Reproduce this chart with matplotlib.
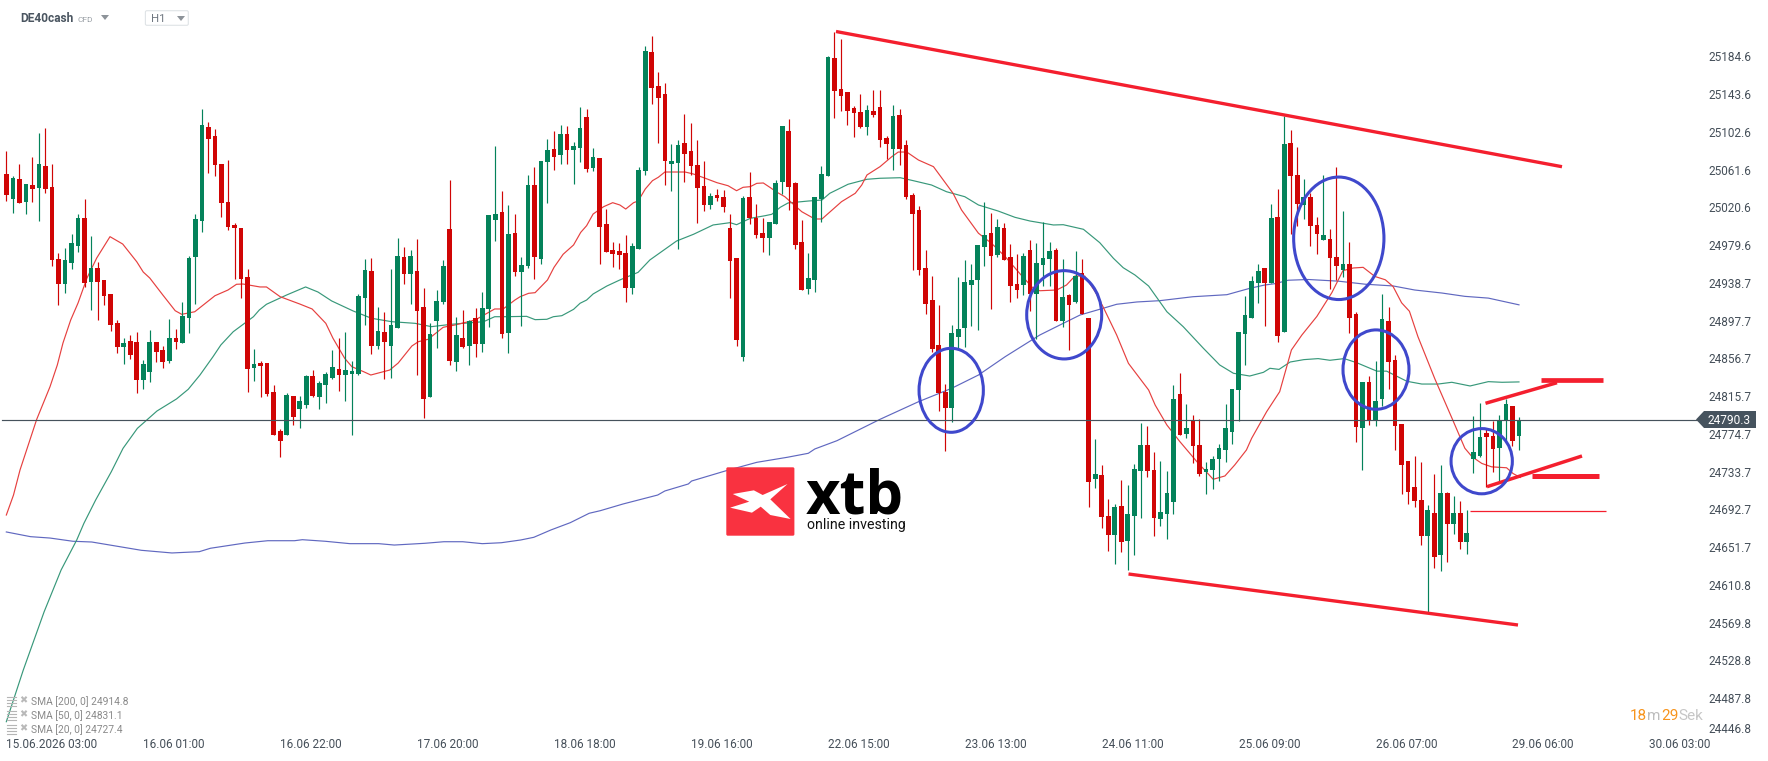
import matplotlib
matplotlib.use("Agg")
import matplotlib.pyplot as plt
from matplotlib.patches import Ellipse, FancyBboxPatch, Polygon
from matplotlib.transforms import Affine2D

W, H = 1768, 761
plt.rcParams['font.family'] = ['Roboto', 'DejaVu Sans']

opens = [25056.9,25029.7,25051.4,25026.5,25044.9,25041.7,25065.5,25042.7,24964.6,24937.4,24960.2,24978.7,25009.1,24939.6,24954.8,24941.8,24926.6,24895.1,24869,24875.5,
24874.5,24833.2,24841.9,24874.5,24865.8,24853.8,24878.8,24873.4,24900.5,24966.7,25005.8,25107.9,25098.1,25067.7,25026.5,25001.5,24998.2,24945,24846.2,24851.7,
24851.7,24820.2,24777.8,24773.5,24815.8,24801.7,24806.1,24837.5,24814.7,24827.8,24835.4,24845.2,24838.6,24839.7,24839.7,24922.2,24951.5,24870.1,24885.3,24870.1,
24889.7,24966.7,24948.3,24951.5,24912.5,24814.7,24897.3,24917.9,24997.2,24852.7,24878.8,24870.1,24900.5,24872.3,24910.3,25006.9,25015.6,24884.2,24992.7,24950.4,
24956.9,25044.9,24964.5,25069.8,25083.9,25077.4,25100.2,25082.9,25085,25118.7,25063.3,25074.2,25002.5,24974.3,24973.2,24971,24933,24975.4,25060.1,25189.3,
25152.3,25143.7,25067.7,25068.7,25090.5,25081.8,25066.6,25043.8,25023.1,25034,25031.8,24998.2,24965.6,24858.1,25031.8,25009,24992.7,24987.3,25002.5,25048.1,
25103.5,25047,24983,24932,24941.7,25029.7,25054.6,25182.7,25149.1,25145.8,25128.5,25124.1,25107.8,25125.2,25129.5,25095.9,25083.9,25120.9,25088.3,25034,
25017.7,24954.7,24920,24871.1,24820.1,24802.7,24879.8,24889.6,24936.3,24941.7,24977.5,24992.7,24968.9,24998.2,24966.7,24937.4,24936.3,24974.3,24926.5,24958,
24964.5,24974.3,24897.2,24925.5,24917.9,24949.3,24900.5,24725.7,24730,24685.5,24664.9,24696.4,24658.4,24685.5,24734.4,24762.6,24735.5,24682.3,24687.7,24700.7,
24818,24774.6,24790.1,24762.6,24733.3,24735.5,24747.4,24757.2,24776.7,24822.3,24883.1,24900.5,24938.5,24954.8,24938.5,25010.5,24885.3,25090.9,25055.6,25023.7,
25031.4,25001.7,24985.2,24986.3,24966.4,24952.1,24958.7,24904.8,24781.5,24831,24790.3,24812.3,24897.1,24855.2,24785.9,24745.1,24716.5,24703.3,24663.7,24689,
24642.8,24711,24676.9,24689,24657.1,24747.3,24750.6,24776,24772.7,24759.1,24790.3,24804.6,24772.7]
highs = [25081.8,25054.7,25067.7,25046,25075.3,25101.4,25106.8,25067.7,24971.1,24976.5,24991.7,25013.4,25029.7,24989.5,24961.3,24941.8,24926.6,24898.3,24878.8,24882.1,
24885.3,24854.9,24887.5,24874.5,24870.1,24899.4,24888.6,24917.9,24967.8,25013.4,25127.4,25113.3,25105.7,25067.7,25072.1,25003.7,24998.2,24953.7,24866.9,24853.8,
24851.7,24827.8,24780,24819.1,24815.8,24815.8,24838.6,24844.1,24832.1,24841.9,24865.8,24878.8,24885.3,24853.8,24926.6,24964.6,24965.7,24912.5,24907,24953.7,
24987.4,24977.6,24974.3,24986.3,24933.1,24895.1,24930.9,24963.5,25050.3,24901.6,24909.2,24898.3,24911.4,24928.7,25012.3,25087.3,25038.4,25023.2,25013.4,24966.7,
25055.7,25064.4,25070.9,25094.8,25103.5,25110,25108.9,25091.5,25129.5,25127.4,25085,25074.2,25018.8,24983,24981.9,24990.6,24981.9,25064.4,25195.8,25206.6,
25167.5,25155.6,25089.4,25093.7,25121.9,25112.2,25093.7,25070.9,25036.2,25040.5,25039.4,25013.4,24965.6,25032.9,25059,25024.2,25009,25004.7,25050.3,25108.9,
25116.5,25048.1,25006.9,24971,25031.8,25065.5,25184.9,25211,25203.4,25145.8,25130.6,25143.7,25131.7,25148,25148,25098.1,25131.7,25127.4,25093.7,25036.2,
25022.1,24974.3,24946.1,24914.6,24828.8,24892.9,24945,24963.4,24959.1,24979.7,25026.4,25014.5,25007.9,25003.6,24980.8,24970,24971,24985.2,24981.9,25004.7,
24983,24976.5,24964.5,24926.5,24973.2,24964.5,24900.5,24769.1,24740.9,24704,24698.6,24724.6,24719.2,24742,24786.5,24783.2,24755,24745.2,24734.4,24827.7,
24840.8,24807.1,24795.2,24790.5,24744.1,24750.7,24763.7,24807.1,24823.4,24885.3,24924.4,24946.1,24959.1,24954.8,25024.3,25040.2,25119.5,25104.1,25086.5,25051.2,
25035.8,25010.5,25055.6,24997.3,25064.4,25017.1,24983,24907,24831,24837.6,24854.1,24926.8,24912.5,24860.7,24785.9,24745.1,24750.6,24744,24697.8,24730.8,
24740.7,24712.1,24707.7,24702.2,24692.3,24793.6,24807.9,24781.5,24789.2,24794.7,24812.3,24804.6,24792.5]
lows = [25027.5,25014.5,25025.4,25013.4,25026.5,25005.8,25036.2,24957,24914.6,24927.7,24953.7,24972.2,24934.2,24909.2,24898.3,24914.6,24886.4,24862.5,24850.6,24856,
24819.1,24823.4,24831,24852.7,24846.2,24851.7,24866.9,24873.4,24884.2,24915.7,24993.9,25057.9,25054.7,25010.2,24996.1,24942.9,24922.2,24820.2,24832.1,24814.7,
24815.8,24773.5,24749.6,24773.5,24784.3,24781.1,24802.8,24814.7,24801.7,24808.2,24834.3,24821.3,24810.4,24773.5,24838.6,24892.9,24861.4,24866.9,24834.3,24835.4,
24889.7,24937.4,24915.7,24838.6,24792,24814.7,24867.9,24915.7,24849.5,24843,24867.9,24849.5,24858.2,24863.6,24890.7,24984.1,24878.8,24862.5,24946.1,24891.8,
24954.7,24942.8,24959.1,25025.3,25061.1,25067.7,25067.7,25045.9,25069.8,25059,25060.1,24959.1,24972.1,24955.8,24953.7,24917.8,24926.5,24975.4,25055.7,25132.8,
25090.5,25044.9,25038.3,24975.4,25048.1,25055.7,25003.6,25016.6,25018.8,25027.5,25015.5,24922.2,24870.1,24853.8,25002.5,24987.3,24972.1,24968.9,25002.5,25035.1,
25017.7,24975.4,24930.9,24926.5,24928.7,25004.7,25054.6,25117.6,25125.2,25110,25097,25106.7,25099.1,25118.7,25086.1,25073.1,25061.1,25066.6,25029.7,24952.6,
24947.1,24904.8,24863.6,24799.5,24756.1,24787.5,24865.7,24869,24891.8,24887.4,24956.9,24910.2,24966.7,24963.4,24917.8,24922.2,24925.4,24908.1,24877.7,24935.2,
24935.2,24897.2,24890.7,24865.7,24916.8,24904.8,24695.3,24715.9,24672.5,24647.5,24633.4,24646.4,24626.9,24643.2,24683.4,24727.9,24663.8,24674.7,24660.6,24687.7,
24773.5,24770.2,24743.1,24728.9,24709.4,24714.8,24723.5,24744.1,24763.7,24788.7,24849.5,24900.5,24916.8,24891.8,24938.5,24874.3,24885.3,24991.8,25000.6,25008.3,
24978.6,24969.7,24985.2,24932.3,24942.2,24945.5,24883.9,24766.1,24735.2,24784.8,24783.7,24804.6,24823.3,24757.3,24709.9,24698.9,24695.6,24653.8,24581.1,24629.5,
24626.2,24635.1,24665.9,24649.4,24643.9,24731.9,24749.5,24716.5,24733,24723.1,24768.3,24761.3,24757.3]
closes = [25034.1,25052.5,25025.4,25046,25040.6,25067.7,25040.6,24963.5,24937.4,24963.5,24981.9,25009.1,24938.5,24954.8,24939.6,24924.4,24892.9,24869,24873.4,24860.3,
24833.2,24850.6,24874.5,24863.6,24852.7,24878.8,24874.5,24902.7,24965.7,25008,25110.1,25094.9,25066.6,25025.4,24999.3,24998.2,24942.9,24845.2,24850.6,24848.4,
24818,24773.5,24767,24816.9,24793,24810.4,24837.5,24815.8,24829.9,24839.7,24847.3,24838.6,24844.1,24843,24924.4,24952.6,24870.1,24886.4,24874.5,24892.9,
24967.8,24948.3,24967.8,24908.1,24812.6,24883.2,24919,24957,24853.8,24882.1,24869,24897.3,24872.3,24911.4,25012.3,25013.4,24883.2,24991.7,24950.4,24958,
25044.9,24966.7,25070.9,25082.9,25075.3,25100.2,25082.9,25087.2,25106.7,25062.2,25075.3,24999.3,24972.1,24970,24968.9,24933,24978.6,25061.1,25190.3,25150.2,
25139.3,25070.9,25070.9,25088.3,25078.5,25065.5,25041.6,25023.1,25032.9,25030.7,25021,24962.3,24876.6,25030.7,25009,24990.6,24987.3,25004.7,25047,25108.9,
25042.7,24979.7,24930.9,24943.9,25031.8,25056.8,25183.8,25146.9,25141.5,25125.2,25123,25107.8,25126.3,25120.9,25093.7,25089.4,25119.8,25083.9,25031.8,25013.4,
24952.6,24915.7,24866.8,24819,24802.7,24884.2,24888.5,24939.5,24941.7,24979.7,24990.6,24967.8,24999.3,24963.4,24935.2,24930.9,24967.8,24926.5,24960.2,24965.6,
24973.2,24897.2,24923.3,24914.6,24946.1,24904.8,24722.4,24731.1,24684.4,24664.9,24695.3,24657.3,24687.7,24736.6,24762.6,24734.4,24683.4,24689.9,24710.5,24812.5,
24773.5,24781.1,24761.5,24731.1,24736.6,24747.4,24759.3,24781.1,24823.4,24885.3,24903.7,24940.7,24951.5,24938.5,25009.1,24880.9,25089.8,25054.5,25024.8,25031.4,
25000.6,24991.8,24990.7,24965.3,24956.5,24958.7,24900.4,24782.6,24831,24790.3,24810.1,24899.3,24853,24783.7,24740.7,24712.1,24702.2,24663.7,24692.3,24640.5,
24711,24676.9,24689,24657.1,24667,24755.1,24771.6,24771.6,24758,24790.3,24806.8,24767.2,24790.3]

sma20_bars = [0,1.1,2.1,4.66,6.7,7.82,8.69,9.87,11,12.37,13.86,15.9,17.85,20,21,22,24,25.9,26.9,28.9,30.2,32,34,35.3,36.3,38.9,39.9,42,45,46.9,49,50.1,51.9,53,54.8,55.9,58.8,60.1,62.2,63.2,64.7,67,68.8,71.9,74.9,76.2,78,78.8,80.1,81.1,83,84,85.4,87,88.1,89,90,91.6,93,94.1,95,96.2,96.9,98,99.1,100,101,104.1,105.4,107.2,109,110.7,112,113,114.1,115.1,116.1,117.1,118.2,119.4,122,124,125.1,128.1,130.2,131.2,132,134,135.8,136.8,138.1,139.9,142.2,143.7,145.2,146.5,149.1,151.1,153.2,155.5,157.5,158.5,161.1,162.6,163.9,165.4,167,168.2,170.3,172.1,175.2,176.2,178,180,182.6,185.1,186.9,188.4,190.2,191,193.3,195.3,197.1,198.7,201,203.3,205,206.6,208.1,209.9,211.5,212.7,214,215.2,216.5,219.1,221.7,223.7,224.8,226.3,227.8,230.1,231.1,232.2]
sma20_vals = [24686.6,24708.3,24735.5,24790.5,24825.9,24849.5,24873.4,24898.3,24916.8,24943.9,24965.6,24988.8,24980.8,24961.6,24950.4,24943.9,24925.5,24908.4,24904.5,24907.3,24914.6,24924.7,24930.9,24937.1,24937.4,24934.2,24934.2,24923.6,24915.7,24910.3,24894.7,24878.5,24856.7,24847.6,24842.2,24838.6,24844,24851.6,24870.1,24874.8,24877.4,24890.4,24892.9,24898.3,24910.3,24910.3,24920,24923.6,24927.3,24928,24941.8,24955.5,24969.7,24979.8,24993.5,25000.7,25013.4,25021.3,25025.7,25023.2,25018.8,25025.7,25027.5,25040.6,25049.6,25053.3,25059,25059,25056.8,25052.2,25047.4,25044.1,25038.7,25042.4,25043.1,25046.7,25047.1,25042.4,25037,25032.2,25015.9,25008,25008,25026.8,25035.9,25044.9,25055.8,25064.8,25075.6,25080.7,25080.7,25072,25064.8,25050.3,25035.9,25017.8,24992.5,24981.6,24967.1,24948.3,24932.7,24930.1,24930.9,24936.3,24946.1,24946.1,24929.1,24912.8,24882,24851.3,24822.3,24806,24784.3,24766.2,24744.5,24725.4,24729,24740.9,24757.2,24769.9,24798.8,24820.5,24865.8,24882,24902.2,24928,24951.9,24954.8,24955.5,24945.6,24942,24934.6,24917,24907.8,24880.3,24834.4,24792.1,24759.1,24749.9,24742.6,24738.9,24737.9,24731.6,24727.4]

sma50_bars = [0,2.6,5.8,8.4,10.8,11.9,13.7,16.1,17.9,20.1,23.1,26.1,27.9,29.7,31.7,32.9,34.8,37.9,38.8,39.9,43,45.9,47.8,49.9,53.2,56,59.1,62.7,65.2,68.3,73.2,74.9,76.5,79.8,81.1,82.9,83.9,85.2,87,88,89,90,92.1,94.1,96.9,98.7,102.8,105.4,108.4,111,112,114.1,116.4,117.4,118.7,119.9,123,125.1,126.3,129.1,132,134,137.1,139.1,141.9,144.2,147,149.1,152.1,154.7,157,160.6,162.1,165.2,167.7,169.8,171.3,173.1,175.2,178,180.5,183.6,186.1,188.2,190.7,192.8,193.8,195.2,196.9,199,201.2,203,205.2,207.1,210.2,211.7,214.8,217.1,219.6,221.7,224.5,227.3,229.4,232]
sma50_vals = [24462.2,24518.3,24581.6,24626.9,24659.5,24677.6,24702.9,24733.6,24759,24780.7,24799.5,24812.6,24823.1,24838.6,24858.5,24871.2,24885.6,24901.9,24909.2,24915.4,24925.5,24934.2,24928.7,24919,24908.1,24900.2,24896.5,24894.7,24891.1,24893.7,24896.5,24901.9,24901.9,24902.3,24898.7,24899.1,24901.9,24903,24909.9,24916.5,24920,24926.6,24935.2,24941.8,24950.1,24963.5,24984.1,24991.4,25001.5,25004,25001.8,25008.7,25011.6,25013.1,25020.7,25025.4,25027.5,25028.6,25035.9,25045.7,25051.1,25052.2,25052.8,25049.6,25044.9,25037.6,25032.2,25023.2,25016.7,25009.8,25005.8,25001.5,25001.8,24996.8,24982.3,24965.3,24955.1,24947.2,24935.2,24907.3,24891.1,24867.6,24849.5,24840.5,24837.5,24841.5,24845.9,24844.7,24852.7,24855.3,24856.4,24854.6,24856.4,24852,24842.8,24842.8,24831.8,24828.8,24828.8,24830.7,24826.7,24831.4,24830.7,24831.1]

sma200_bars = [0,3.7,6.7,10.2,13.1,20.7,25.4,29.6,31.3,36.6,40.1,44.2,45.4,48.9,52.7,57.1,59.5,64.2,67.1,70,73,75.9,78.9,80.9,83.5,86.5,89.4,91.1,94.6,99.9,101,104.6,105.1,110.4,115.1,119.8,123,124,127.4,134,139.9,145,149.1,153.2,155.5,158.5,162.1,164.7,168.2,170.3,173.4,176.9,182,187.2,190.7,193,194.6,196.6,199.7,204.3,208.4,212.7,216,220.2,223.7,227.3,232]
sma200_vals = [24668.2,24663.1,24661.6,24658.1,24657.3,24648.3,24645.4,24646.8,24650.5,24656.2,24658.7,24658.7,24659.8,24658.1,24655.5,24655.5,24654,24655.9,24657.6,24657.6,24655.5,24656.5,24659.5,24662.4,24670.3,24678.3,24688.5,24691.3,24698.6,24708.3,24712.7,24720.3,24723.5,24734.7,24743.8,24749.3,24753.6,24758.3,24767.3,24790.5,24809.6,24824.2,24838.6,24858.5,24868.7,24882,24894.7,24903.8,24911,24915.4,24917.9,24919.3,24923.6,24925.8,24932.7,24936.3,24937.8,24941.5,24942.3,24940.5,24937.2,24935.3,24930.9,24927.6,24924,24922.1,24914.8]

price_ticks = [25184.6,25143.6,25102.6,25061.6,25020.6,24979.6,24938.7,24897.7,24856.7,24815.7,24774.7,24733.7,24692.7,24651.7,24610.8,24569.8,24528.8,24487.8,24446.8]
time_labels = ['15.06.2026 03:00','16.06 01:00','16.06 22:00','17.06 20:00','18.06 18:00','19.06 16:00','22.06 15:00','23.06 13:00','24.06 11:00','25.06 09:00','26.06 07:00','29.06 06:00','30.06 03:00']
last_price = 24790.3
legend_rows = ['SMA [200, 0] 24914.8','SMA [50, 0] 24831.1','SMA [20, 0] 24727.4']

GREEN, RED = '#04825a', '#d00505'
INK = '#454f59'
fig = plt.figure(figsize=(W/100, H/100), dpi=100, facecolor='white')
ax = fig.add_axes([0, 0, 1, 1])
PITCH, X0 = 6.52, 6.33
ax.set_xlim(-X0/PITCH, (W-X0)/PITCH)
ax.set_ylim(last_price-(H-419.5)*1.0857, last_price+419.5*1.0857)
for s in ax.spines.values():
    s.set_visible(False)
px = Affine2D().scale(1/W, -1/H).translate(0, 1) + fig.transFigure

ax.plot(sma200_bars, sma200_vals, color='#6068c0', lw=0.85, zorder=2)
ax.plot(sma50_bars, sma50_vals, color='#38987a', lw=0.85, zorder=2)
ax.plot(sma20_bars, sma20_vals, color='#e6403f', lw=0.85, zorder=2)

bars = range(len(opens))
colors = [GREEN if c >= o else RED for o, c in zip(opens, closes)]
ax.vlines(bars, lows, highs, colors=colors, lw=0.85, zorder=3)
ax.bar(bars, [abs(c-o) for o, c in zip(opens, closes)], bottom=[min(o, c) for o, c in zip(opens, closes)],
       width=0.72, color=colors, linewidth=0, zorder=3)

# current price line and tag
ax.plot([-0.65, 260], [last_price, last_price], color='#46525c', lw=0.85, zorder=4)
ax.add_patch(Polygon([(1696, 419.5), (1704, 411), (1756, 411), (1756, 428), (1704, 428)], closed=True,
                     transform=px, fc='#46535e', ec='none', zorder=5))
ax.text(1708, 420, f'{last_price}', transform=px, color='white', fontsize=8.6, va='center', ha='left', zorder=6)

# axes labels
ax.set_xticks([21*i for i in range(len(time_labels))])
ax.set_xticklabels(time_labels, color=INK, fontsize=8.5, ha='left')
ax.tick_params(axis='x', length=0, direction='in', pad=-16.6)
ax.set_yticks(price_ticks)
ax.set_yticklabels([f'{p:.1f}' for p in price_ticks], color=INK, fontsize=8.5)
ax.tick_params(axis='y', length=0, direction='in', labelright=True, labelleft=False, right=True, left=False, pad=-43.2)
ax.get_yticklabels()[-1].set_va('bottom')

# hand-drawn annotations
ANN = '#f41f2e'
for (x1, y1, x2, y2, w) in [(836, 31.5, 1562, 166.7, 2.4), (1128.5, 574, 1518, 625, 2.4),
                            (1485.5, 403.3, 1557, 382.7, 2.5), (1487, 486.7, 1582, 456, 2.5),
                            (1541, 380, 1603, 380, 3.4), (1532, 476.3, 1599, 476.3, 3.6),
                            (1470, 511.3, 1606, 511.3, 0.9)]:
    ax.plot([x1, x2], [y1, y2], transform=px, color=ANN, lw=w, solid_capstyle='butt', zorder=7)
for (cx, cy, w, h) in [(951.2, 390.3, 64.3, 84), (1064.2, 314.8, 75, 88.3), (1338.8, 238.3, 90.3, 122.5),
                       (1376, 369.6, 66, 79.4), (1481.7, 461.2, 61.3, 65.2)]:
    ax.add_patch(Ellipse((cx, cy), w, h, transform=px, fill=False, ec='#3f48cc', lw=2.2, zorder=8))

# logo
ax.add_patch(FancyBboxPatch((726.3, 467.3), 68.1, 68.4, boxstyle='round,pad=0,rounding_size=1.5', transform=px,
                            fc='#f93240', ec='none', zorder=5))
xz = [347, 402, 425, 490, 445, 498, 445, 420, 397, 340, 390]
yz = [342, 331, 345, 312, 358, 417, 405, 380, 398, 383, 365]
ax.add_patch(Polygon([(600+a/2.613, 380+b/3) for a, b in zip(xz, yz)], closed=True, transform=px, fc='white', ec='none', zorder=6))
ax.text(805.5, 513.5, 'xtb', transform=px, color='black', fontsize=43, family='Open Sans', fontweight='bold',
        ha='left', va='baseline', zorder=6)
ax.text(806.7, 529, 'online investing', transform=px, color='#111111', fontsize=10.2, ha='left', va='baseline', zorder=6)

# header
ax.text(20, 19, 'DE40cash', transform=px, color='#4a5560', fontsize=8.6, fontweight='bold', va='center')
ax.text(78, 19.5, 'CFD', transform=px, color='#9aa0a6', fontsize=6, va='center')
ax.add_patch(Polygon([(101, 15), (109, 15), (105, 20)], closed=True, transform=px, fc='#8d9399', ec='none'))
ax.add_patch(FancyBboxPatch((145.4, 10.7), 42.9, 14.6, boxstyle='round,pad=0,rounding_size=1.5', transform=px,
                            fc='white', ec='#dfe3e6', lw=0.8))
ax.text(150.5, 19.5, 'H1', transform=px, color='#6f7780', fontsize=8.2, va='center')
ax.add_patch(Polygon([(177, 16), (185, 16), (181, 21)], closed=True, transform=px, fc='#8d9399', ec='none'))

# SMA legend
for row, txt in zip((701, 715.3, 729.3), legend_rows):
    ax.text(31, row+0.5, txt, transform=px, color='#8a8a8a', fontsize=7.4, va='center')
    ax.text(23.3, row-0.5, '\u2716', transform=px, color='#b9b9b9', fontsize=7, va='center', ha='center', family='DejaVu Sans')
    for dy in (-4, -1, 2, 4.5):
        ax.plot([6.5, 16], [row+dy, row+dy], transform=px, color='#b5b5b5', lw=0.8)

# timer
for x, txt, col in [(1630, '18', '#f7941d'), (1646.5, 'm', '#bdbdbd'), (1661.6, '29', '#f7941d'), (1678, 'Sek', '#c6c6c6')]:
    ax.text(x, 716, txt, transform=px, color=col, fontsize=11, va='center')

fig.savefig('out.png', dpi=100, facecolor='white')
